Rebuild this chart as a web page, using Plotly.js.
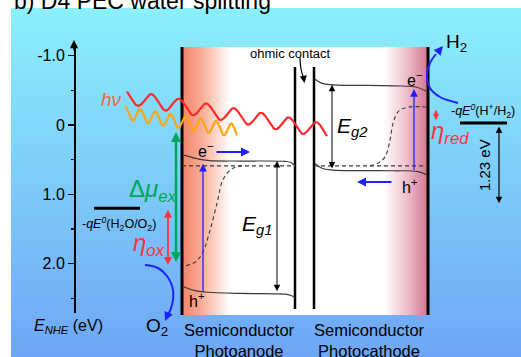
<!DOCTYPE html>
<html><head><meta charset="utf-8">
<script src="https://cdn.plot.ly/plotly-3.0.1.min.js"></script>
<style>html,body{margin:0;padding:0;background:#fff}#chart{width:521px;height:357px}</style>
</head><body><div id="chart"></div>
<script>
// ---- data (energies in eV vs NHE) ----
const tickValues = [-1, 0, 1, 2];
const tickLabels = ['-1.0', '0', '1.0', '2.0'];
const minorTickValues = [-0.5, 0.5, 1.5, 2.5];

const anodeCBx = [183, 200, 210, 240, 285, 291, 295];
const anodeCBe = [0.43, 0.495, 0.515, 0.52, 0.525, 0.54, 0.59];
const anodeVBx = [183, 195, 205, 240, 285, 291, 295];
const anodeVBe = [2.33, 2.39, 2.41, 2.43, 2.44, 2.46, 2.49];
const anodeHoleQFx = [186, 196, 203, 210, 217, 223, 232, 242];
const anodeHoleQFe = [2.03, 1.97, 1.83, 1.52, 1.13, 0.79, 0.63, 0.59];

const cathodeCBx = [315, 322, 333, 393, 417, 427];
const cathodeCBe = [-0.66, -0.60, -0.58, -0.565, -0.545, -0.48];
const cathodeVBx = [315, 322, 333, 393, 417, 427];
const cathodeVBe = [0.555, 0.625, 0.65, 0.66, 0.67, 0.72];
const cathodeElecQFx = [370, 378, 385, 390, 393, 398, 407, 427];
const cathodeElecQFe = [0.59, 0.55, 0.46, 0.22, -0.02, -0.19, -0.255, -0.26];

const fermiLevel = [0.59];
const redoxLabels = ['H+/H2', 'H2O/O2'];
const redoxLevels = [-0.03, 1.2];
const gapAnode = [0.52, 2.42];
const gapCathode = [-0.58, 0.65];
const etaOx = [1.2, 2.02];
const etaRed = [-0.24, -0.07];
const deltaMuEx = [0.1, 2.0];
const span123 = [0.0, 1.13];
const excitationAnode = [2.42, 0.56];
const excitationCathode = [0.67, -0.52];

// ---- geometry helpers (pixel row -> energy) ----
const K = 69.3, Y0 = 125;
function E(p) { return (p - Y0) / K; }
const FONT = 'Liberation Sans, Arial, sans-serif';
const BAND = '#3a3a3a', BLUE = '#2020ff', RED = '#ff3340', GREEN = '#00a65a';

const traces = [];
function poly(xs, ps, extra) {
  traces.push(Object.assign({x: xs, y: ps.map(E), mode: 'none', fill: 'toself', hoverinfo: 'skip'}, extra));
}
function line(xs, es, color, width, extra) {
  traces.push(Object.assign({x: xs, y: es, mode: 'lines', line: {color: color, width: width}, hoverinfo: 'skip'}, extra || {}));
}
function curve(xs, es, color, width, dash) {
  traces.push({x: xs, y: es, mode: 'lines', line: {color: color, width: width, shape: 'spline', smoothing: 1, dash: dash || 'solid'}, hoverinfo: 'skip'});
}

// background
poly([11, 521, 521, 11, 11], [8, 8, 357, 357, 8], {fillcolor: '#7ccaf8',
  fillgradient: {type: 'vertical', start: E(8), stop: E(357), colorscale: [[0, '#8cf0fc'], [1, '#6ea6f6']]}});
// semiconductor boxes
poly([182, 428, 428, 182, 182], [47, 47, 315, 315, 47], {fillcolor: '#ffffff'});
poly([182, 230, 230, 182, 182], [47, 47, 315, 315, 47], {fillcolor: '#f8a58c',
  fillgradient: {type: 'horizontal', start: 182, stop: 230, colorscale: [[0, '#f4846a'], [0.4, '#f8ab94'], [1, '#ffffff']]}});
poly([384, 428, 428, 384, 384], [47, 47, 315, 315, 47], {fillcolor: '#e6a0b2',
  fillgradient: {type: 'horizontal', start: 384, stop: 428, colorscale: [[0, '#ffffff'], [0.5, '#efc0cc'], [1, '#d3758e']]}});

// edges and ohmic contact
line([182, 182], [E(47), E(315)], '#000', 3);
line([428, 428], [E(47), E(315)], '#000', 3);
line([295, 295], [E(67), E(309)], '#000', 2.5);
line([314, 314], [E(67), E(309)], '#000', 2.5);

// bands
curve(anodeCBx, anodeCBe, BAND, 1.2);
curve(anodeVBx, anodeVBe, BAND, 1.2);
curve(cathodeCBx, cathodeCBe, BAND, 1.2);
curve(cathodeVBx, cathodeVBe, BAND, 1.2);
line([182, 295], [fermiLevel[0], fermiLevel[0]], BAND, 1.1, {line: {color: BAND, width: 1.1, dash: '4px,3px'}});
line([314, 428], [fermiLevel[0], fermiLevel[0]], BAND, 1.1, {line: {color: BAND, width: 1.1, dash: '4px,3px'}});
curve(anodeHoleQFx, anodeHoleQFe, BAND, 1.1, '4px,3px');
curve(cathodeElecQFx, cathodeElecQFe, BAND, 1.1, '4px,3px');

// redox levels
line([94, 140], [redoxLevels[1], redoxLevels[1]], '#000', 3);
line([460, 507], [redoxLevels[0], redoxLevels[0]], '#000', 3);

// photons (decorative waves)
function wave(x0, x1, c0, slope, lam, amp, peakX, color) {
  const xs = [], es = [];
  for (let x = x0; x <= x1; x += 0.5) {
    xs.push(x);
    es.push(E(c0 + slope * (x - x0) - amp * Math.cos(2 * Math.PI * (x - peakX) / lam)));
  }
  line(xs, es, color, 2.2);
}
wave(125, 237, 113, 0.16, 15.2, 6.5, 125, '#ffa514');
wave(127, 327, 97, 0.17, 27.5, 7, 124, '#ff2a2a');

// curved arrows (paths)
curve([145, 158, 167, 173, 172, 168], [265, 268, 276, 290, 305, 315].map(E), BLUE, 2);
curve([458, 440, 430, 427, 430, 436], [103, 97, 88, 75, 63, 54].map(E), BLUE, 2);
curve([300, 301, 303.5], [58, 69, 78].map(E), '#000', 1.2);

// axis subplot dummy
traces.push({x: [74], y: [0], xaxis: 'x', yaxis: 'y2', mode: 'markers', marker: {opacity: 0}, hoverinfo: 'skip'});

// ---- annotations ----
const ann = [];
function arrow(x0, e0, x1, e1, color, width, size, both) {
  ann.push({x: x1, y: e1, ax: x0, ay: e0, xref: 'x', yref: 'y', axref: 'x', ayref: 'y', text: '',
    showarrow: true, arrowhead: 2, arrowsize: size, arrowwidth: width, arrowcolor: color,
    arrowside: both ? 'end+start' : 'end', startarrowhead: 2, startarrowsize: size, standoff: 0, startstandoff: 0});
}
function label(x, p, text, size, color, extra) {
  ann.push(Object.assign({x: x, y: E(p), xref: 'x', yref: 'y', text: text, showarrow: false,
    font: {family: FONT, size: size, color: color || '#000'}}, extra || {}));
}

arrow(277, gapAnode[1], 277, gapAnode[0], '#000', 1, 1.3, true);
arrow(332, gapCathode[1], 332, gapCathode[0], '#000', 1, 1.3, true);
arrow(203, excitationAnode[0], 203, excitationAnode[1], BLUE, 1.3, 1.2, false);
arrow(414, excitationCathode[0], 414, excitationCathode[1], BLUE, 1.3, 1.2, false);
arrow(215, E(152), 250, E(152), BLUE, 1.8, 1.0, false);
arrow(393, E(182), 357, E(182), BLUE, 1.8, 1.0, false);
arrow(168, etaOx[0], 168, etaOx[1], RED, 1.8, 0.9, true);
arrow(176, deltaMuEx[1], 176, deltaMuEx[0], GREEN, 2.5, 0.8, true);
arrow(436, etaRed[0], 436, etaRed[1], RED, 1.6, 0.7, true);
arrow(499, span123[0], 499, span123[1], '#000', 1.2, 1.1, true);
arrow(74, E(52), 74, E(40), '#000', 1.5, 1.1, false);
arrow(169, E(312), 165, E(321), BLUE, 2, 0.9, false);
arrow(437, E(53), 443, E(46), BLUE, 2, 0.9, false);
arrow(303.5, E(77), 304.5, E(83), '#000', 1.2, 1.2, false);

ann.push({xref: 'paper', yref: 'paper', x: 12 / 521, y: 1, xanchor: 'left', yanchor: 'middle', yshift: -1,
  text: 'b) D4 PEC water splitting', showarrow: false, font: {family: FONT, size: 23, color: '#000'}});
label(290, 53, 'ohmic contact', 13);
label(257, 225, '<i>E</i><sub><i>g1</i></sub>', 21);
label(352, 127, '<i>E</i><sub><i>g2</i></sub>', 21);
label(205, 150, 'e<sup>−</sup>', 16);
label(196, 300, 'h<sup>+</sup>', 16);
label(414, 79, 'e<sup>−</sup>', 16);
label(409, 186, 'h<sup>+</sup>', 16);
label(450, 132, '<i>η</i><sub><i>red</i></sub>', 24, RED);
label(149, 244, '<i>η</i><sub><i>ox</i></sub>', 24, RED);
label(153, 190, 'Δ<i>μ</i><sub><i>ex</i></sub>', 24, GREEN);
label(111, 99, '<i>hν</i>', 19, '#ff6633');
label(119, 224, '-<i>qE</i><sup><i>0</i></sup>(H<sub>2</sub>O/O<sub>2</sub>)', 12.5);
label(483, 111, '-<i>qE</i><sup><i>0</i></sup>(H<sup>+</sup>/H<sub>2</sub>)', 12.5);
label(484, 165, '1.23 eV', 15, '#000', {textangle: -90});
label(456, 43, 'H<sub>2</sub>', 19);
label(157, 327, 'O<sub>2</sub>', 19);
label(68, 326, '<i>E</i><sub><i>NHE</i></sub> (eV)', 16);
label(239, 340.5, 'Semiconductor<br>Photoanode', 16.5);
label(369.5, 340.5, 'Semiconductor<br>Photocathode', 16.5);

const layout = {
  width: 521, height: 357, margin: {l: 0, r: 0, t: 0, b: 0, pad: 0},
  paper_bgcolor: '#ffffff', plot_bgcolor: 'rgba(0,0,0,0)', showlegend: false, hovermode: false,
  font: {family: FONT},
  xaxis: {range: [0, 521], visible: false, fixedrange: true},
  yaxis: {range: [E(357), E(0)], visible: false, fixedrange: true},
  yaxis2: {anchor: 'free', position: 74 / 521, side: 'left', domain: [(357 - 313) / 357, (357 - 46) / 357],
    range: [E(313), E(46)], showline: true, linecolor: '#000', linewidth: 1.5, zeroline: false, showgrid: false,
    ticks: 'outside', ticklen: 6, tickwidth: 1.5, tickcolor: '#000', tickvals: tickValues, ticktext: tickLabels,
    tickfont: {family: FONT, size: 16, color: '#000'},
    minor: {tickvals: minorTickValues, ticks: 'outside', ticklen: 3, tickwidth: 1.2, tickcolor: '#000', showgrid: false}},
  annotations: ann
};
Plotly.newPlot('chart', traces, layout, {staticPlot: true, displayModeBar: false});
</script></body></html>
